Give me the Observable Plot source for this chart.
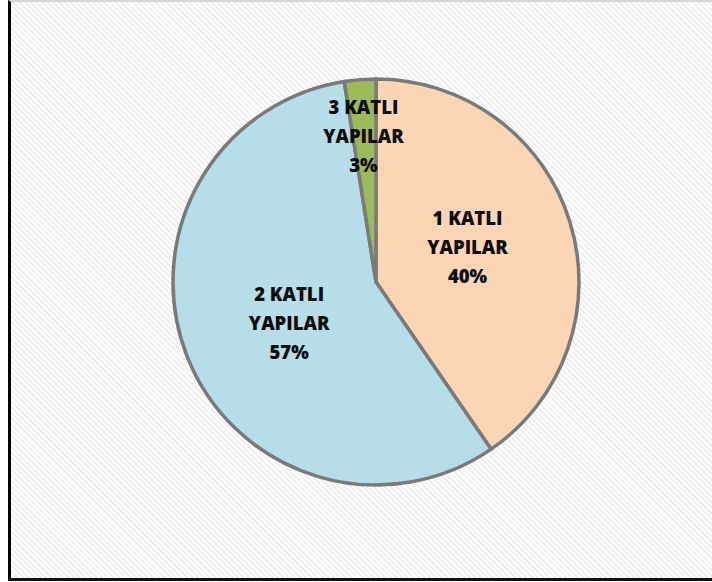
<!DOCTYPE html>
<html>
<head>
<meta charset="utf-8">
<script src="https://cdn.jsdelivr.net/npm/d3@7"></script>
<script src="https://cdn.jsdelivr.net/npm/@observablehq/plot@0.6"></script>
<style>
  html, body { margin: 0; padding: 0; background: #fff; }
  #wrap { position: relative; width: 712px; height: 582px; overflow: hidden; background: #fff; }
  #frame {
    position: absolute; left: 8px; top: 0; width: 720px; height: 576px;
    border-left: 3px solid #000; border-top: 2px solid #d6d6d6; border-bottom: 3px solid #111;
    background-color: #fff;
    background-image: repeating-linear-gradient(45deg, #f0f0f0 0px, #f0f0f0 2px, #ffffff 2px, #ffffff 4px);
  }
  #chart { position: absolute; left: 0; top: 0; }
</style>
</head>
<body>
<div id="wrap"><div id="frame"></div><div id="chart"></div></div>
<script>
const categories = ["1 KATLI YAPILAR", "2 KATLI YAPILAR", "3 KATLI YAPILAR"];
const shares = [40.4, 57.1, 2.5];
const percentLabels = ["40%", "57%", "3%"];
const labelLines = [["1 KATLI", "YAPILAR"], ["2 KATLI", "YAPILAR"], ["3 KATLI", "YAPILAR"]];
const colors = ["#FCD5B5", "#B7DEE8", "#9BBB59"];

const labelRadius = [0.486, 0.470, 0.737];
const labelAngleShift = [-5.4, -1.9, -0.5].map(d => d * Math.PI / 180);

const cx = 376, cy = 282, R = 203;

const table = categories.map((c, i) => ({category: c, value: shares[i], color: colors[i], pct: percentLabels[i], lines: labelLines[i]}));
const arcs = d3.pie().sort(null).value(d => d.value)(table);

const labels = arcs.map((a, i) => {
  const mid = (a.startAngle + a.endAngle) / 2 + labelAngleShift[i];
  return {
    x: Math.sin(mid) * labelRadius[i],
    y: Math.cos(mid) * labelRadius[i],
    text: a.data.lines.join("\n") + "\n" + a.data.pct
  };
});

const pieMark = (...args) => {
  const sc = args.find(a => a && typeof a.x === "function" && typeof a.y === "function");
  const xs = sc ? sc.x : d3.scaleLinear([-1, 1], [cx - R, cx + R]);
  const ys = sc ? sc.y : d3.scaleLinear([-1, 1], [cy + R, cy - R]);
  const x0 = xs(0), y0 = ys(0), r = Math.abs(xs(1) - xs(0));
  const g = d3.create("svg:g").attr("transform", `translate(${x0},${y0})`);
  const arc = d3.arc().innerRadius(0).outerRadius(r);
  g.selectAll("path").data(arcs).join("path")
    .attr("d", arc)
    .attr("fill", d => d.data.color)
    .attr("stroke", "#7a7a7a")
    .attr("stroke-width", 3.5)
    .attr("stroke-linejoin", "round");
  return g.node();
};

const chart = Plot.plot({
  width: 712,
  height: 582,
  margin: 0,
  style: {background: "transparent", overflow: "visible"},
  x: {domain: [-1, 1], range: [cx - R, cx + R], axis: null},
  y: {domain: [-1, 1], range: [cy + R, cy - R], axis: null},
  marks: [
    pieMark,
    Plot.text(labels, {
      x: "x", y: "y", text: "text",
      fontFamily: "Open Sans",
      fontWeight: 800,
      fontSize: 18.5,
      lineHeight: 1.58,
      fill: "#0d0d0d",
      textAnchor: "middle"
    })
  ]
});
document.getElementById("chart").appendChild(chart);
</script>
</body>
</html>
